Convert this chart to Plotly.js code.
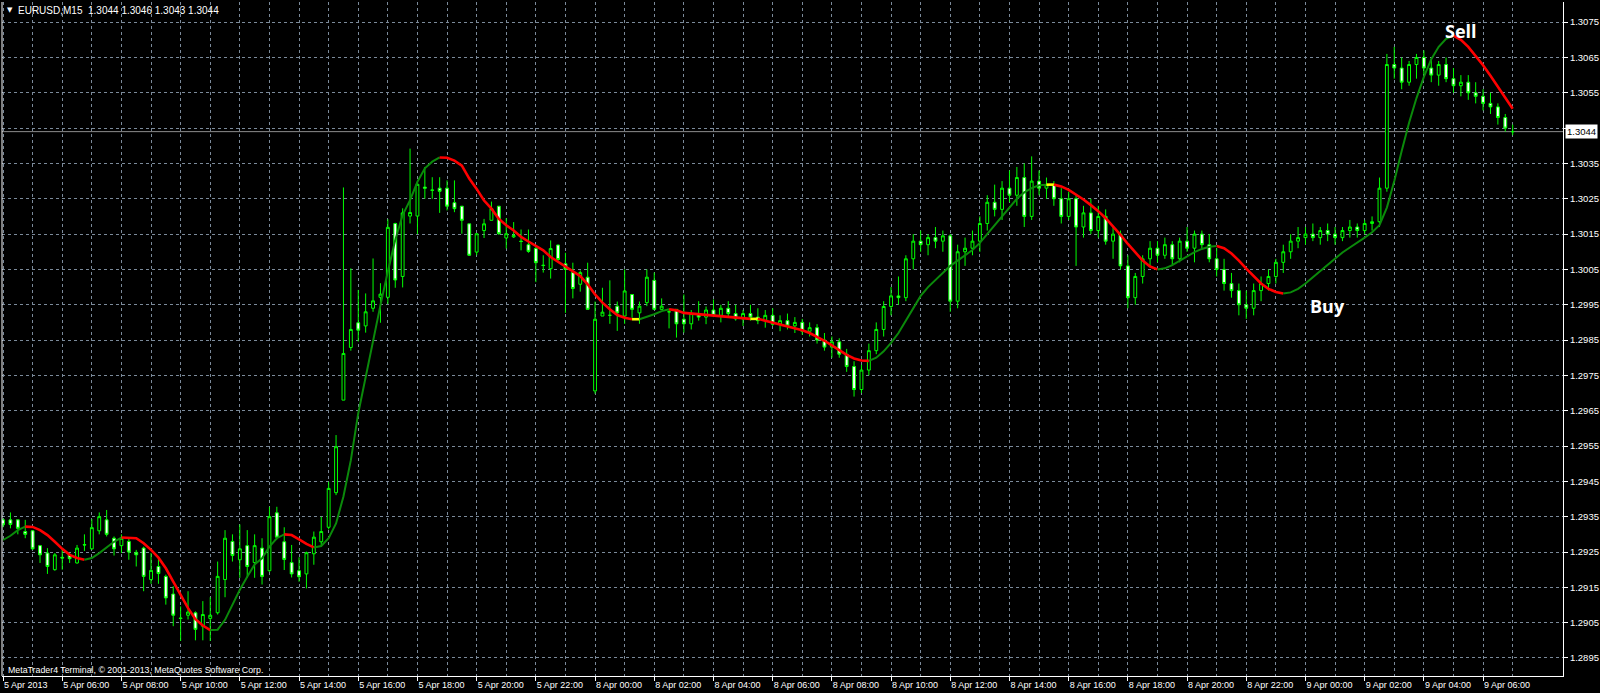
<!DOCTYPE html>
<html><head><meta charset="utf-8">
<script src="https://cdn.plot.ly/plotly-3.0.1.min.js"></script>
<style>html,body{margin:0;padding:0;background:#000;}#chart{width:1600px;height:693px;}</style>
</head><body><div id="chart"></div>
<script>
// EURUSD M15, bar index 0 = 5 Apr 2013 04:00 (weekend skipped)
const openP = [
1.29341,1.29341,1.29341,1.29308,1.29310,1.29268,1.29247,1.29200,1.29235,1.29242,
1.29219,1.29271,1.29259,1.29310,1.29341,1.29289,1.29268,1.29280,1.29249,1.29261,
1.29172,1.29209,1.29181,1.29131,1.29063,1.29071,1.29078,1.29040,1.29062,1.29078,
1.29172,1.29280,1.29228,1.29268,1.29220,1.29261,1.29197,1.29361,1.29279,1.29220,
1.29197,1.29188,1.29245,1.29279,1.29320,1.29418,1.29680,1.29829,1.29899,1.29890,
1.29940,1.29971,1.29971,1.30180,1.30030,1.30201,1.30201,1.30283,1.30275,1.30280,
1.30280,1.30239,1.30229,1.30179,1.30099,1.30160,1.30189,1.30229,1.30139,1.30142,
1.30130,1.30120,1.30109,1.30062,1.30052,1.30119,1.30066,1.30041,1.30008,1.30028,
1.29706,1.29918,1.29920,1.29946,1.29918,1.29979,1.29927,1.29956,1.30019,1.29937,
1.29930,1.29937,1.29909,1.29896,1.29925,1.29915,1.29935,1.29920,1.29940,1.29925,
1.29910,1.29925,1.29915,1.29905,1.29920,1.29895,1.29905,1.29890,1.29900,1.29875,
1.29885,1.29850,1.29830,1.29845,1.29810,1.29775,1.29710,1.29765,1.29820,1.29880,
1.29945,1.29975,1.29970,1.30080,1.30130,1.30120,1.30140,1.30130,1.30145,1.29960,
1.30100,1.30110,1.30130,1.30180,1.30240,1.30220,1.30280,1.30260,1.30310,1.30200,
1.30300,1.30280,1.30290,1.30250,1.30200,1.30250,1.30170,1.30210,1.30160,1.30200,
1.30130,1.30150,1.30060,1.29970,1.30030,1.30080,1.30110,1.30090,1.30120,1.30080,
1.30130,1.30110,1.30150,1.30120,1.30080,1.30050,1.30010,1.29990,1.29950,1.29940,
1.29990,1.30010,1.30030,1.30070,1.30100,1.30130,1.30140,1.30150,1.30140,1.30160,
1.30150,1.30140,1.30160,1.30170,1.30160,1.30180,1.30185,1.30280,1.30630,1.30620,
1.30580,1.30630,1.30650,1.30620,1.30600,1.30630,1.30590,1.30570,1.30580,1.30550,
1.30540,1.30520,1.30510,1.30480,1.30440];
const highP = [
1.29345,1.29362,1.29341,1.29341,1.29312,1.29270,1.29261,1.29247,1.29261,1.29247,
1.29270,1.29300,1.29343,1.29362,1.29369,1.29294,1.29300,1.29289,1.29256,1.29265,
1.29247,1.29237,1.29186,1.29153,1.29096,1.29139,1.29082,1.29111,1.29122,1.29223,
1.29312,1.29300,1.29328,1.29312,1.29300,1.29289,1.29378,1.29378,1.29320,1.29270,
1.29235,1.29251,1.29308,1.29350,1.29449,1.29581,1.30282,1.30053,1.29992,1.29982,
1.30081,1.30011,1.30192,1.30182,1.30223,1.30392,1.30293,1.30340,1.30311,1.30311,
1.30302,1.30302,1.30229,1.30179,1.30151,1.30193,1.30242,1.30229,1.30195,1.30184,
1.30163,1.30163,1.30118,1.30090,1.30132,1.30120,1.30097,1.30069,1.30047,1.30069,
1.29959,1.29998,1.30019,1.29959,1.30050,1.29979,1.29959,1.30050,1.30041,1.29968,
1.29937,1.29937,1.29979,1.29935,1.29960,1.29945,1.29965,1.29950,1.29960,1.29950,
1.29935,1.29950,1.29940,1.29935,1.29940,1.29920,1.29925,1.29915,1.29910,1.29900,
1.29895,1.29870,1.29860,1.29855,1.29825,1.29790,1.29780,1.29840,1.29900,1.29960,
1.30000,1.30030,1.30090,1.30150,1.30160,1.30150,1.30170,1.30160,1.30150,1.30120,
1.30140,1.30160,1.30200,1.30260,1.30290,1.30300,1.30330,1.30340,1.30350,1.30370,
1.30330,1.30310,1.30300,1.30280,1.30270,1.30260,1.30230,1.30250,1.30230,1.30220,
1.30170,1.30160,1.30090,1.30040,1.30090,1.30130,1.30130,1.30140,1.30130,1.30140,
1.30170,1.30160,1.30160,1.30150,1.30110,1.30080,1.30040,1.30010,1.29990,1.30010,
1.30030,1.30050,1.30080,1.30120,1.30150,1.30170,1.30170,1.30180,1.30170,1.30180,
1.30170,1.30170,1.30190,1.30180,1.30190,1.30200,1.30310,1.30660,1.30680,1.30650,
1.30640,1.30660,1.30670,1.30650,1.30640,1.30650,1.30620,1.30600,1.30600,1.30580,
1.30560,1.30550,1.30520,1.30490,1.30460];
const lowP = [
1.29320,1.29317,1.29300,1.29289,1.29256,1.29219,1.29188,1.29197,1.29200,1.29219,
1.29217,1.29253,1.29256,1.29300,1.29294,1.29240,1.29247,1.29228,1.29209,1.29139,
1.29160,1.29160,1.29101,1.29040,1.28998,1.29059,1.29000,1.29000,1.28998,1.29073,
1.29122,1.29223,1.29177,1.29177,1.29177,1.29158,1.29194,1.29286,1.29199,1.29178,
1.29166,1.29147,1.29214,1.29265,1.29314,1.29411,1.29680,1.29820,1.29846,1.29871,
1.29930,1.29899,1.29952,1.29998,1.29999,1.30180,1.30150,1.30250,1.30250,1.30210,
1.30217,1.30212,1.30151,1.30088,1.30090,1.30139,1.30189,1.30148,1.30109,1.30139,
1.30104,1.30097,1.30014,1.30041,1.30024,1.30074,1.29927,1.29968,1.29987,1.29937,
1.29698,1.29918,1.29896,1.29876,1.29896,1.29913,1.29896,1.29946,1.29937,1.29937,
1.29883,1.29857,1.29871,1.29880,1.29905,1.29895,1.29915,1.29900,1.29915,1.29905,
1.29890,1.29905,1.29895,1.29885,1.29890,1.29875,1.29880,1.29870,1.29865,1.29860,
1.29840,1.29820,1.29800,1.29800,1.29760,1.29690,1.29700,1.29750,1.29810,1.29860,
1.29920,1.29950,1.29960,1.30050,1.30100,1.30090,1.30110,1.30100,1.29930,1.29940,
1.30060,1.30090,1.30100,1.30160,1.30200,1.30190,1.30240,1.30230,1.30170,1.30190,
1.30260,1.30250,1.30230,1.30180,1.30190,1.30060,1.30140,1.30150,1.30140,1.30120,
1.30080,1.30050,1.29940,1.29950,1.30010,1.30060,1.30070,1.30080,1.30060,1.30070,
1.30100,1.30070,1.30110,1.30070,1.30030,1.29990,1.29970,1.29920,1.29910,1.29920,
1.29960,1.29990,1.30010,1.30040,1.30080,1.30110,1.30120,1.30130,1.30120,1.30130,
1.30120,1.30130,1.30140,1.30140,1.30150,1.30160,1.30170,1.30270,1.30590,1.30560,
1.30570,1.30590,1.30600,1.30580,1.30570,1.30580,1.30550,1.30540,1.30530,1.30520,
1.30500,1.30490,1.30460,1.30440,1.30430];
const closeP = [
1.29327,1.29328,1.29317,1.29300,1.29259,1.29242,1.29209,1.29242,1.29233,1.29231,
1.29261,1.29270,1.29319,1.29350,1.29300,1.29259,1.29289,1.29250,1.29242,1.29181,
1.29198,1.29189,1.29120,1.29071,1.29062,1.29080,1.29031,1.29073,1.29071,1.29181,
1.29289,1.29240,1.29259,1.29209,1.29268,1.29181,1.29350,1.29292,1.29229,1.29188,
1.29180,1.29248,1.29292,1.29308,1.29430,1.29548,1.29812,1.29880,1.29878,1.29930,
1.29961,1.29980,1.30169,1.30020,1.30210,1.30211,1.30291,1.30280,1.30274,1.30271,
1.30229,1.30222,1.30189,1.30090,1.30151,1.30179,1.30222,1.30151,1.30151,1.30146,
1.30129,1.30101,1.30069,1.30061,1.30109,1.30078,1.30050,1.29996,1.30041,1.29937,
1.29909,1.29929,1.29920,1.29927,1.29989,1.29937,1.29946,1.30028,1.29937,1.29946,
1.29930,1.29896,1.29896,1.29925,1.29915,1.29935,1.29920,1.29940,1.29925,1.29910,
1.29925,1.29915,1.29905,1.29920,1.29895,1.29905,1.29890,1.29900,1.29875,1.29885,
1.29850,1.29830,1.29845,1.29810,1.29775,1.29710,1.29765,1.29820,1.29880,1.29945,
1.29975,1.29970,1.30080,1.30130,1.30120,1.30140,1.30130,1.30145,1.29960,1.30100,
1.30110,1.30130,1.30180,1.30240,1.30220,1.30280,1.30260,1.30310,1.30200,1.30300,
1.30280,1.30290,1.30250,1.30200,1.30250,1.30170,1.30210,1.30160,1.30200,1.30130,
1.30150,1.30060,1.29970,1.30030,1.30080,1.30110,1.30090,1.30120,1.30080,1.30130,
1.30110,1.30150,1.30120,1.30080,1.30050,1.30010,1.29990,1.29950,1.29940,1.29990,
1.30010,1.30030,1.30070,1.30100,1.30130,1.30140,1.30150,1.30140,1.30160,1.30150,
1.30140,1.30160,1.30170,1.30160,1.30180,1.30185,1.30280,1.30630,1.30620,1.30580,
1.30630,1.30650,1.30620,1.30600,1.30630,1.30590,1.30570,1.30580,1.30550,1.30540,
1.30520,1.30510,1.30480,1.30450,1.30440];
// colour-changing moving average (green rising, red falling, yellow flat)
const maLine = [
1.29284,1.29296,1.29312,1.29322,1.29321,1.29312,1.29298,1.29279,1.29259,1.29242,
1.29233,1.29228,1.29233,1.29247,1.29263,1.29279,1.29291,1.29290,1.29289,1.29275,
1.29256,1.29234,1.29204,1.29166,1.29128,1.29091,1.29060,1.29042,1.29029,1.29030,
1.29058,1.29100,1.29143,1.29180,1.29215,1.29232,1.29265,1.29289,1.29300,1.29298,
1.29286,1.29273,1.29263,1.29267,1.29289,1.29331,1.29407,1.29510,1.29643,1.29746,
1.29850,1.29949,1.30044,1.30133,1.30204,1.30246,1.30298,1.30336,1.30355,1.30367,
1.30366,1.30358,1.30344,1.30307,1.30278,1.30245,1.30222,1.30193,1.30175,1.30160,
1.30142,1.30129,1.30116,1.30104,1.30085,1.30072,1.30059,1.30045,1.30031,1.30008,
1.29979,1.29956,1.29937,1.29921,1.29913,1.29909,1.29909,1.29915,1.29923,1.29932,
1.29937,1.29934,1.29927,1.29925,1.29922,1.29920,1.29918,1.29916,1.29914,1.29912,
1.29911,1.29910,1.29910,1.29905,1.29900,1.29895,1.29890,1.29885,1.29878,1.29870,
1.29860,1.29848,1.29835,1.29822,1.29808,1.29798,1.29792,1.29791,1.29800,1.29818,
1.29842,1.29870,1.29905,1.29940,1.29975,1.30000,1.30020,1.30040,1.30060,1.30075,
1.30090,1.30105,1.30125,1.30150,1.30175,1.30200,1.30225,1.30250,1.30268,1.30280,
1.30288,1.30290,1.30290,1.30285,1.30275,1.30262,1.30248,1.30232,1.30215,1.30195,
1.30172,1.30148,1.30122,1.30098,1.30075,1.30058,1.30050,1.30053,1.30062,1.30074,
1.30087,1.30099,1.30108,1.30114,1.30116,1.30110,1.30095,1.30075,1.30052,1.30030,
1.30010,1.29995,1.29986,1.29982,1.29985,1.29995,1.30010,1.30028,1.30046,1.30064,
1.30082,1.30098,1.30112,1.30125,1.30140,1.30155,1.30175,1.30225,1.30300,1.30385,
1.30465,1.30535,1.30595,1.30645,1.30680,1.30703,1.30712,1.30700,1.30680,1.30655,
1.30628,1.30598,1.30566,1.30535,1.30505];
const tickBars = [0,8,16,24,32,40,48,56,64,72,80,88,96,104,112,120,128,136,144,152,160,168,176,184,192,200];
const tickLabels = ['5 Apr 2013','5 Apr 06:00','5 Apr 08:00','5 Apr 10:00','5 Apr 12:00','5 Apr 14:00','5 Apr 16:00','5 Apr 18:00','5 Apr 20:00','5 Apr 22:00','8 Apr 00:00','8 Apr 02:00','8 Apr 04:00','8 Apr 06:00','8 Apr 08:00','8 Apr 10:00','8 Apr 12:00','8 Apr 14:00','8 Apr 16:00','8 Apr 18:00','8 Apr 20:00','8 Apr 22:00','9 Apr 00:00','9 Apr 02:00','9 Apr 04:00','9 Apr 06:00'];
const priceTicks = [1.2895,1.2905,1.2915,1.2925,1.2935,1.2945,1.2955,1.2965,1.2975,1.2985,1.2995,1.3005,1.3015,1.3025,1.3035,1.3045,1.3055,1.3065,1.3075];
// 1.3045 sits under the current-price box, so its text is hidden as in the terminal
const priceLabels = ['1.2895','1.2905','1.2915','1.2925','1.2935','1.2945','1.2955','1.2965','1.2975','1.2985','1.2995','1.3005','1.3015','1.3025','1.3035','','1.3055','1.3065','1.3075'];
const signals = [{text:'Sell', bar:197, price:1.30725},{text:'Buy', bar:179, price:1.29946}];

const bars = openP.map((_, i) => i);
const GRID = '#7b8a9a';
const FONT = 'Liberation Sans, Arial, sans-serif';

const traces = [{
  type:'candlestick', x:bars, open:openP, high:highP, low:lowP, close:closeP,
  increasing:{line:{color:'#00ff00', width:1}, fillcolor:'#000000'},
  decreasing:{line:{color:'#00ff00', width:1}, fillcolor:'#ffffff'},
  whiskerwidth:0, hoverinfo:'skip', showlegend:false
}];

// split MA into runs by slope direction
const colOf = d => d > 1e-7 ? 'g' : (d < -1e-7 ? 'r' : 'y');
const styles = {g:{color:'#0b8a0b', width:2}, r:{color:'#ff0000', width:2.6}, y:{color:'#ffff00', width:2.6}};
let runStart = 0, runCol = colOf(maLine[1]-maLine[0]);
for (let i = 1; i <= maLine.length; i++) {
  const c = i < maLine.length ? colOf(maLine[i]-maLine[i-1]) : null;
  if (c !== runCol) {
    const xs = [], ys = [];
    for (let k = runStart; k <= i-1; k++) { xs.push(k); ys.push(maLine[k]); }
    traces.push({type:'scatter', mode:'lines', x:xs, y:ys, line:styles[runCol], hoverinfo:'skip', showlegend:false});
    runStart = i-1; runCol = c;
  }
}

const gridBars = [];
for (let b = 4; b <= 212; b += 8) gridBars.push(b);
const last = closeP.length - 1;

const annotations = [
  {xref:'paper', yref:'paper', x:0, y:1, xanchor:'left', yanchor:'middle', xshift:3, yshift:-8, text:'▼', showarrow:false, font:{family:'DejaVu Sans', size:7, color:'#fff'}},
  {xref:'paper', yref:'paper', x:0, y:1, xanchor:'left', yanchor:'middle', xshift:14, yshift:-8, showarrow:false,
   text:'EURUSD,M15  ' + [openP[last],highP[last],lowP[last],closeP[last]].map(v=>v.toFixed(4)).join(' '), font:{family:FONT, size:10, color:'#fff'}},
  {xref:'paper', yref:'paper', x:0, y:0, xanchor:'left', yanchor:'middle', xshift:4, yshift:6, showarrow:false,
   text:'MetaTrader4 Terminal, © 2001-2013, MetaQuotes Software Corp.', font:{family:FONT, size:8.8, color:'#fff'}},
  {xref:'paper', yref:'y', x:1, y:closeP[last], xanchor:'left', yanchor:'middle', xshift:2, showarrow:false,
   text:closeP[last].toFixed(4), bgcolor:'#ffffff', borderpad:1, font:{family:FONT, size:9.5, color:'#000'}}
];
signals.forEach(s => annotations.push({x:s.bar, y:s.price, text:'<b>'+s.text+'</b>', showarrow:false, font:{family:'Open Sans, Liberation Sans, sans-serif', size:18, color:'#fff'}}));

const layout = {
  width:1600, height:693, paper_bgcolor:'#000', plot_bgcolor:'#000',
  margin:{l:2, r:37, t:2, b:17}, showlegend:false, boxgap:0.45, hovermode:false,
  xaxis:{range:[-0.14, 210.8], rangeslider:{visible:false}, type:'linear',
    tickmode:'array', tickvals:tickBars, ticktext:tickLabels, ticklabelposition:'outside right',
    ticks:'outside', ticklen:4, tickcolor:'#fff', tickfont:{family:FONT, size:9, color:'#fff'},
    showgrid:true, gridcolor:GRID, griddash:'3px,3px', gridwidth:1,
    minor:{tickmode:'array', tickvals:gridBars, showgrid:true, gridcolor:GRID, griddash:'3px,3px', gridwidth:1, ticks:''},
    showline:true, linecolor:'#fff', linewidth:1, zeroline:false, fixedrange:true},
  yaxis:{range:[1.28899, 1.30807], side:'right', tickmode:'array', tickvals:priceTicks, ticktext:priceLabels,
    ticks:'outside', ticklen:4, tickcolor:'#fff', tickfont:{family:FONT, size:9.5, color:'#fff'},
    showgrid:true, gridcolor:GRID, griddash:'3px,3px', gridwidth:1,
    showline:true, linecolor:'#fff', linewidth:1, zeroline:false, fixedrange:true},
  shapes:[
    {type:'line', xref:'paper', yref:'y', x0:0, x1:1, y0:closeP[last], y1:closeP[last], line:{color:'#8c8c8c', width:1}, layer:'below'},
    {type:'line', xref:'paper', yref:'paper', x0:0, x1:0, y0:0, y1:1, line:{color:'#fff', width:1}}
  ],
  annotations:annotations
};
Plotly.newPlot('chart', traces, layout, {displayModeBar:false, staticPlot:true});
</script>
</body></html>
